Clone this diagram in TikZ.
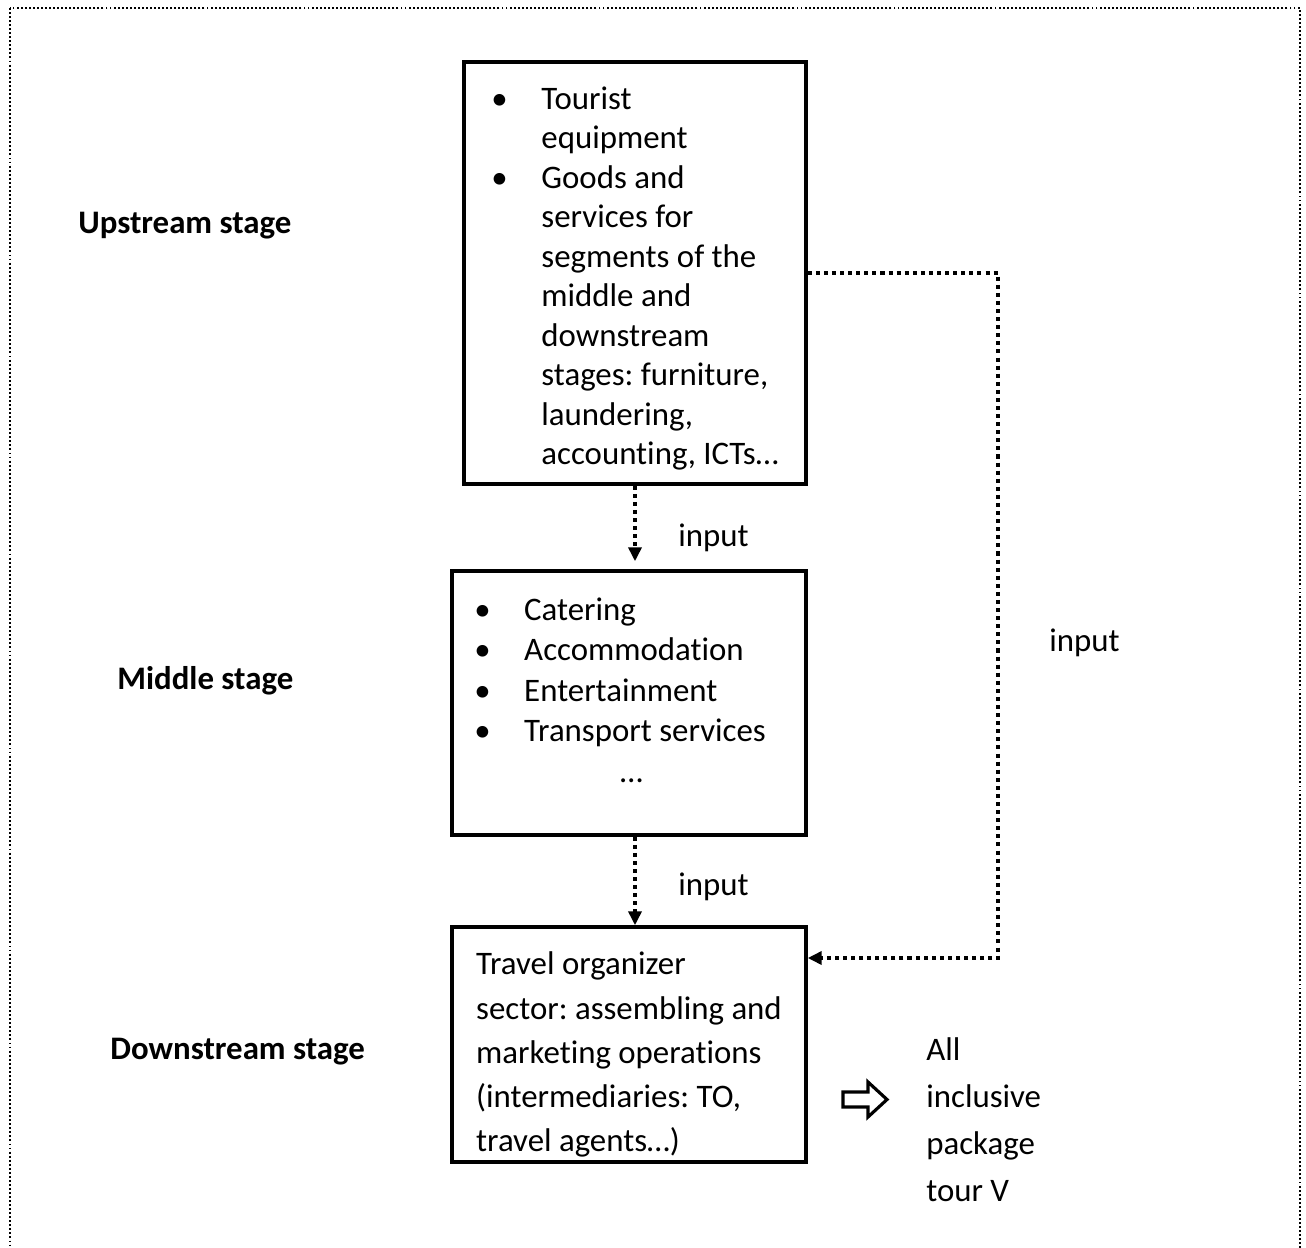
\documentclass[tikz,border=0pt]{standalone}
\usepackage{fontspec}
\setmainfont{Carlito}[Ligatures=NoCommon]
\usetikzlibrary{arrows.meta}
\frenchspacing

\begin{document}
\begin{tikzpicture}[x=0.02cm, y=-0.02cm,
        stagebox/.style={
            rectangle, draw = black, line width = 2pt, inner sep = 0pt
        },
        feed/.style={
            line width = 2pt, dash pattern = on 2.3pt off 2.3pt, -{Triangle[length=0.28cm,width=0.26cm]}
        },
        stagename/.style={
            anchor = base west, inner sep = 0pt, font = \fontsize{18.7}{22.5}\selectfont\bfseries
        },
        flowtext/.style={
            anchor = base west, inner sep = 0pt, font = \fontsize{18.7}{22.5}\selectfont
        },
    ]
        \useasboundingbox (0,0) rectangle (1306,1248);
        \draw[line width=1.1pt, dash pattern=on 1.1pt off 1.2pt] (10,8) rectangle (1300,1260);

        \node (upstream) [stagename] at (78,233) {Upstream stage};
        \node (middle) [stagename] at (117,689) {Middle stage};
        \node (downstream) [stagename] at (110,1059) {Downstream stage};

        \node (upBox) [stagebox, minimum width=6.84cm, minimum height=8.44cm, font=\fontsize{18.7}{22.5}\selectfont] at (635,273) {\raisebox{-0.12cm}[\height][\depth]{\begin{tabular}{@{}p{1cm}@{}l@{}}
            \textbullet & Tourist\\
             & equipment\\
            \textbullet & Goods and\\
             & services for\\
             & segments of the\\
             & middle and\\
             & downstream\\
             & stages: furniture,\\
             & laundering,\\
             & accounting, ICTs…
        \end{tabular}}};

        \node (midBox) [stagebox, minimum width=7.08cm, minimum height=5.28cm, font=\fontsize{18.7}{23.05}\selectfont] at (629,703) {\begin{tabular}{@{}p{1cm}@{}l@{\hspace{0.36cm}}}
            \textbullet & Catering\\
            \textbullet & Accommodation\\
            \textbullet & Entertainment\\
            \textbullet & Transport services\\
             & \hspace{1.92cm}…\\[0.4cm]
        \end{tabular}};

        \node (lowBox) [stagebox, minimum width=7.08cm, minimum height=4.7cm, font=\fontsize{18.7}{25.2}\selectfont] at (629,1044.5) {\raisebox{-0.2cm}[\height][\depth]{\begin{tabular}{@{}l@{}}
            Travel organizer\\
            sector: assembling and\\
            marketing operations\\
            (intermediaries: TO,\\
            travel agents…)
        \end{tabular}}};

        \draw[feed, shorten >=0.16cm] (upBox.south) -- (upBox.south |- midBox.north);
        \node (inputUp) [flowtext] at (678,546) {input};

        \draw[feed] (midBox.south -| upBox.south) -- (lowBox.north -| upBox.south);
        \node (inputMid) [flowtext] at (678,895) {input};

        \coordinate (feedCorner) at (998,958);
        \draw[feed] (upBox.east) -| (feedCorner) -- (lowBox.east |- feedCorner);
        \node (inputSide) [flowtext] at (1049,651) {input};

        \draw[line width=1.8pt] (843,1092) -- (868,1092) -- (868,1082) -- (887,1099.5) -- (868,1117) -- (868,1107) -- (843,1107) -- cycle;
        \node (packageTour) [flowtext, font=\fontsize{18.7}{26.75}\selectfont] at (926,1060) {\begin{tabular}[t]{@{}l@{}}
            All\\
            inclusive\\
            package\\
            tour V
        \end{tabular}};

    \end{tikzpicture}
\end{document}
